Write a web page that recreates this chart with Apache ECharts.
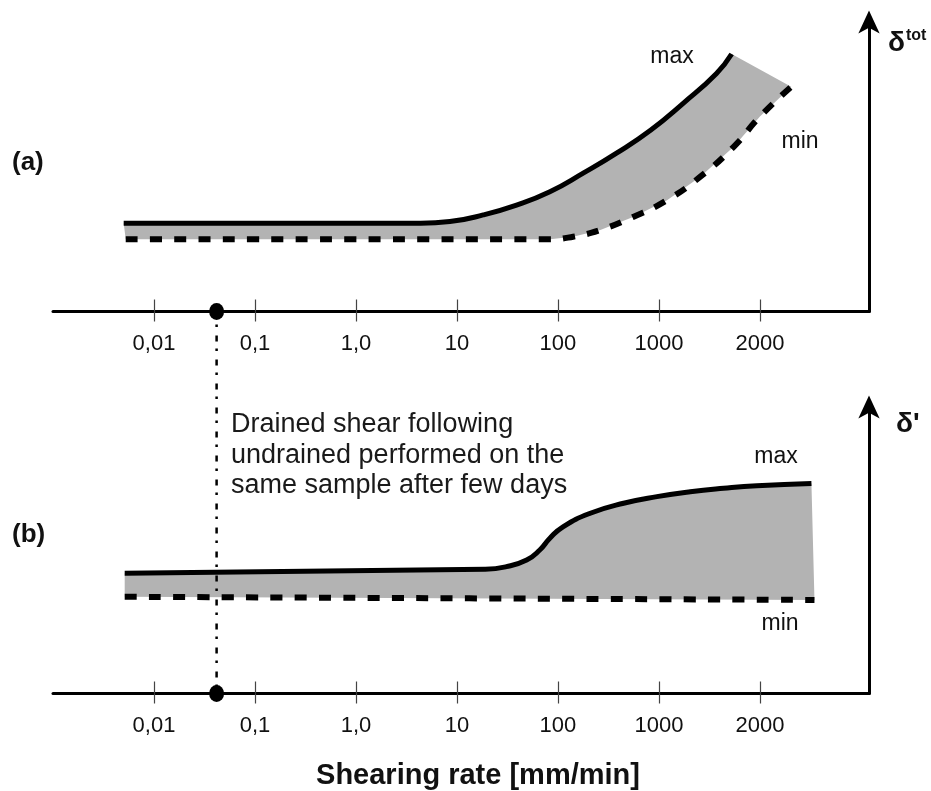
<!DOCTYPE html>
<html>
<head>
<meta charset="utf-8">
<script src="https://cdn.jsdelivr.net/npm/echarts@6/dist/echarts.min.js"></script>
<style>
html,body{margin:0;padding:0;background:#fff;}
#c{width:931px;height:791px;}
</style>
</head>
<body>
<div id="c"></div>
<script>
// ---- data (x = position on the schematic log-rate axis, 0 = "0,01" ... 6 = "2000") ----
const tickPositions = [0, 1, 2, 3, 4, 5, 6];
const tickLabels = ['0,01', '0,1', '1,0', '10', '100', '1000', '2000'];
const drainedPoint = [0.62, 0];

// panel (a): delta_tot
const topMax = [
  [-0.30, 30.4], [2.64, 30.4], [2.93, 31.0], [3.26, 33.3], [3.59, 36.7], [3.92, 41.3],
  [4.25, 47.7], [4.58, 54.6], [4.92, 62.6], [5.24, 71.8], [5.57, 82.1], [5.72, 88.8]
];
const topMin = [
  [-0.28, 24.9], [3.92, 24.9], [4.15, 25.8], [4.42, 28.1], [4.75, 32.7], [5.08, 38.4],
  [5.41, 46.5], [5.74, 56.8], [6.00, 67.2], [6.31, 77.5]
];

// panel (b): delta'
const bottomMax = [
  [-0.29, 41.9], [3.28, 43.3], [3.49, 44.2], [3.69, 46.5], [3.82, 50.0], [3.92, 54.1],
  [4.05, 58.1], [4.32, 62.8], [4.65, 66.3], [4.98, 68.6], [5.31, 70.3], [5.64, 71.5],
  [5.97, 72.4], [6.51, 73.2]
];
const bottomMin = [
  [-0.29, 33.7], [6.54, 32.6]
];

const FONT = "'Liberation Sans', Arial, Helvetica, sans-serif";

function xAxesFor(gi) {
  const common = {
    gridIndex: gi, type: 'value', min: -1, max: 7.08, position: 'bottom',
    splitLine: { show: false }
  };
  return [
    Object.assign({}, common, {
      axisLine: { show: true, onZero: false, lineStyle: { color: '#000', width: 3 } },
      axisTick: { show: true, customValues: tickPositions, length: 10, inside: false,
        lineStyle: { color: '#444', width: 1.2 } },
      axisLabel: { show: true, customValues: tickPositions, margin: 21.5,
        formatter: v => tickLabels[Math.round(v)] || '',
        fontFamily: FONT, fontSize: 22, color: '#111' }
    }),
    Object.assign({}, common, {
      axisLine: { show: false, onZero: false },
      axisTick: { show: true, customValues: tickPositions, length: 12, inside: true,
        lineStyle: { color: '#444', width: 1.2 } },
      axisLabel: { show: false }
    })
  ];
}

function yAxisFor(gi) {
  return {
    gridIndex: gi, type: 'value', min: 0, max: 100, position: 'right',
    axisLine: { show: true, onZero: false, symbol: ['none', 'arrow'], symbolSize: [16, 23],
      symbolOffset: [0, 11],
      lineStyle: { color: '#000', width: 3 } },
    axisTick: { show: false }, axisLabel: { show: false }, splitLine: { show: false }
  };
}

function fillSeries(xi, yi, upper, lower) {
  return {
    type: 'custom', xAxisIndex: xi, yAxisIndex: yi, z: 1, silent: true, clip: false,
    data: [[0, 0]],
    renderItem: function (params, api) {
      const pts = upper.concat(lower.slice().reverse()).map(p => api.coord(p));
      return { type: 'polygon', shape: { points: pts }, style: { fill: '#b3b3b3' } };
    }
  };
}

function lineSeries(xi, yi, data, dashed, width) {
  return {
    type: 'line', xAxisIndex: xi, yAxisIndex: yi, data: data, z: 3, silent: true,
    smooth: 0.5, symbol: 'none', showSymbol: false, clip: false,
    lineStyle: { color: '#000', width: width, type: dashed ? [12, 12.3] : 'solid', cap: 'butt' }
  };
}

function dotSeries(xi, yi) {
  return {
    type: 'scatter', xAxisIndex: xi, yAxisIndex: yi, data: [drainedPoint], z: 6, silent: true,
    clip: false, symbol: 'circle', symbolSize: [15, 17], itemStyle: { color: '#000', opacity: 1 }
  };
}

const chart = echarts.init(document.getElementById('c'), null, { renderer: 'canvas' });
chart.setOption({
  animation: false,
  backgroundColor: '#fff',
  grid: [
    { left: 53, right: 62, top: 21.5, height: 290 },
    { left: 53, right: 62, top: 406.5, height: 287 }
  ],
  xAxis: xAxesFor(0).concat(xAxesFor(1)),
  yAxis: [yAxisFor(0), yAxisFor(1)],
  series: [
    fillSeries(0, 0, topMax, topMin),
    lineSeries(0, 0, topMax, false, 5),
    lineSeries(0, 0, topMin, true, 6),
    dotSeries(0, 0),
    fillSeries(2, 1, bottomMax, bottomMin),
    lineSeries(2, 1, bottomMax, false, 5),
    lineSeries(2, 1, bottomMin, true, 6),
    dotSeries(2, 1)
  ]
});

const p1 = chart.convertToPixel({ xAxisIndex: 0, yAxisIndex: 0 }, drainedPoint);
const p2 = chart.convertToPixel({ xAxisIndex: 2, yAxisIndex: 1 }, drainedPoint);

function txt(x, y, text, size, bold, align, extra) {
  const st = Object.assign({
    text: text, x: 0, y: 0,
    font: (bold ? 'bold ' : '') + size + 'px ' + FONT,
    fill: '#111',
    align: align || 'left', textAlign: align || 'left',
    verticalAlign: 'middle', textVerticalAlign: 'middle'
  }, extra || {});
  return { type: 'text', x: x, y: y, z: 10, silent: true, style: st };
}

chart.setOption({
  graphic: [
    { type: 'line', z: 4, silent: true,
      shape: { x1: p1[0], y1: p1[1], x2: p2[0], y2: p2[1] },
      style: { stroke: '#000', lineWidth: 2.5, lineDash: [6, 7, 2.5, 8.5] } },
    txt(12, 163, '(a)', 26, true),
    txt(12, 535, '(b)', 26, true),
    txt(672, 57, 'max', 23, false, 'center'),
    txt(800, 142, 'min', 23, false, 'center'),
    txt(776, 457, 'max', 23, false, 'center'),
    txt(780, 624, 'min', 23, false, 'center'),
    txt(888, 43, 'δ', 28, true),
    txt(906, 36, 'tot', 16, true),
    txt(896, 424, "δ'", 28, true),
    txt(231, 409.75, 'Drained shear following\nundrained performed on the\nsame sample after few days', 27, false, 'left',
      { verticalAlign: 'top', textVerticalAlign: 'top', lineHeight: 30.5, fill: '#1a1a1a' }),
    txt(478, 776, 'Shearing rate [mm/min]', 29, true, 'center')
  ]
});
</script>
</body>
</html>
